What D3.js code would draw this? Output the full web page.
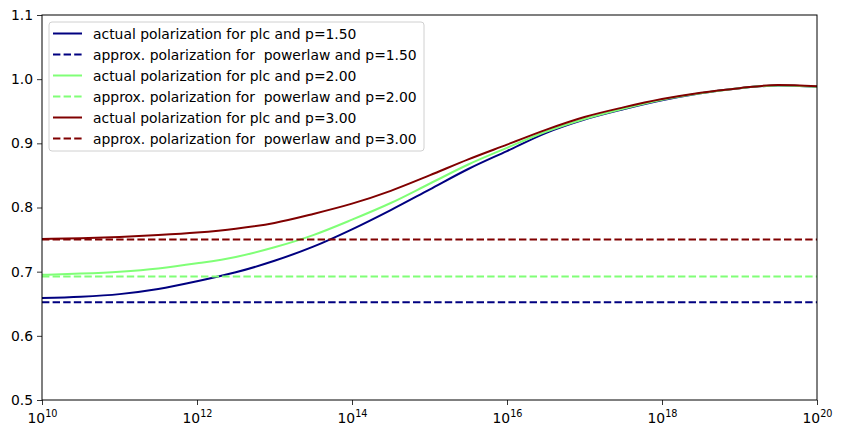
<!DOCTYPE html>
<html><head><meta charset="utf-8">
<script src="https://cdn.jsdelivr.net/npm/d3@7"></script>
<style>
body{margin:0;background:#fff;}
text{font-family:"DejaVu Sans",sans-serif;}
</style></head>
<body><svg id="chart" width="842" height="438"></svg>
<script>
// log10 of x values
const logX = [10,10.5,11,11.5,12,12.5,13,13.5,14,14.5,15,15.5,16,16.5,17,17.5,18,18.5,19,19.5,20];
const actualP150 = [0.659,0.661,0.665,0.673,0.685,0.699,0.717,0.739,0.766,0.796,0.828,0.860,0.888,0.916,0.937,0.953,0.967,0.978,0.986,0.990,0.988];
const actualP200 = [0.695,0.697,0.700,0.705,0.713,0.723,0.738,0.757,0.781,0.807,0.837,0.867,0.893,0.918,0.938,0.954,0.968,0.978,0.986,0.990,0.988];
const actualP300 = [0.751,0.752,0.754,0.757,0.761,0.767,0.776,0.790,0.806,0.826,0.850,0.875,0.898,0.921,0.941,0.956,0.969,0.979,0.986,0.991,0.989];
const approxP150 = 0.6522;
const approxP200 = 0.6923;
const approxP300 = 0.75;
const seriesLabels = [
  "actual polarization for plc and p=1.50",
  "approx. polarization for  powerlaw and p=1.50",
  "actual polarization for plc and p=2.00",
  "approx. polarization for  powerlaw and p=2.00",
  "actual polarization for plc and p=3.00",
  "approx. polarization for  powerlaw and p=3.00"
];
const seriesColors = ["#000080","#000080","#80ff77","#80ff77","#800000","#800000"];
const xTickExps = [10,12,14,16,18,20];
const yTicks = [0.5,0.6,0.7,0.8,0.9,1.0,1.1];

const L=42, R=817, T=15, B=400;
const FS = "13.9px";
const svg = d3.select("#chart");
const x = d3.scaleLog().domain([1e10,1e20]).range([L,R]);
const y = d3.scaleLinear().domain([0.5,1.1]).range([B,T]);
const DASH = "7.4,3.2";

const series = [
  {vals: logX.map((e,i)=>[Math.pow(10,e), actualP150[i]]), dash:null},
  {vals: [[1e10,approxP150],[1e20,approxP150]], dash:DASH},
  {vals: logX.map((e,i)=>[Math.pow(10,e), actualP200[i]]), dash:null},
  {vals: [[1e10,approxP200],[1e20,approxP200]], dash:DASH},
  {vals: logX.map((e,i)=>[Math.pow(10,e), actualP300[i]]), dash:null},
  {vals: [[1e10,approxP300],[1e20,approxP300]], dash:DASH}
];
const line = d3.line().x(d=>x(d[0])).y(d=>y(d[1])).curve(d3.curveMonotoneX);
const g = svg.append("g");
g.append("clipPath").attr("id","clip").append("rect").attr("x",L).attr("y",T).attr("width",R-L).attr("height",B-T);
series.forEach((s,i)=>{
  g.append("path").attr("d",line(s.vals)).attr("fill","none")
   .attr("stroke",seriesColors[i]).attr("stroke-width",2)
   .attr("stroke-dasharray",s.dash).attr("clip-path","url(#clip)");
});

// axes
const xAxis = svg.append("g").attr("transform",`translate(0,${B})`)
  .call(d3.axisBottom(x).tickValues(xTickExps.map(e=>Math.pow(10,e))).tickSize(5).tickFormat(""));
xAxis.select(".domain").remove();
xAxis.selectAll("line").attr("stroke","#000").attr("stroke-width",0.8);
xAxis.selectAll(".tick").each(function(d){
  const t = d3.select(this).append("text").attr("y",23).attr("fill","#000")
    .attr("text-anchor","middle").style("font-size",FS);
  t.append("tspan").text("10");
  t.append("tspan").attr("dy",-6).style("font-size","9.7px").text(Math.round(Math.log10(d)));
});
const yAxis = svg.append("g").attr("transform",`translate(${L},0)`)
  .call(d3.axisLeft(y).tickValues(yTicks).tickSize(5).tickPadding(4).tickFormat(d3.format(".1f")));
yAxis.select(".domain").remove();
yAxis.selectAll("line").attr("stroke","#000").attr("stroke-width",0.8);
yAxis.selectAll("text").style("font-size",FS).attr("fill","#000");

svg.append("rect").attr("x",L).attr("y",T).attr("width",R-L).attr("height",B-T)
  .attr("fill","none").attr("stroke","#000").attr("stroke-width",1);

// legend
const lg = svg.append("g");
lg.append("rect").attr("x",49).attr("y",22).attr("width",375).attr("height",129).attr("rx",3)
  .attr("fill","#fff").attr("fill-opacity",0.8).attr("stroke","#d0d0d0").attr("stroke-width",1);
seriesLabels.forEach((lab,i)=>{
  const yy = 33.5 + i*21;
  lg.append("line").attr("x1",53).attr("x2",82).attr("y1",yy).attr("y2",yy)
    .attr("stroke",seriesColors[i]).attr("stroke-width",2)
    .attr("stroke-dasharray",series[i].dash);
  lg.append("text").attr("x",93).attr("y",yy+5).style("font-size",FS)
    .style("white-space","pre").attr("fill","#000").text(lab);
});
</script></body></html>
